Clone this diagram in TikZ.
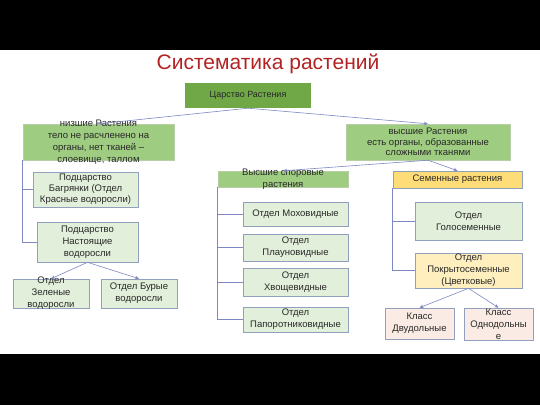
\documentclass[tikz,border=0pt]{standalone}
\usepackage{fontspec}
\setmainfont{Liberation Sans}
\usetikzlibrary{arrows.meta}

\definecolor{titlered}{RGB}{178,34,34}
\definecolor{rootgreen}{RGB}{112,168,72}
\definecolor{midgreen}{RGB}{158,204,128}
\definecolor{palegreen}{RGB}{226,239,218}
\definecolor{gold}{RGB}{254,220,120}
\definecolor{paleyellow}{RGB}{255,238,190}
\definecolor{palepink}{RGB}{250,236,228}
\definecolor{edgecol}{RGB}{145,160,190}
\definecolor{linkcol}{RGB}{125,135,195}
\definecolor{inkcol}{RGB}{40,40,40}

\begin{document}
\begin{tikzpicture}[x=1pt,y=-1pt,
   every node/.style={font=\fontsize{9.5}{12}\selectfont, text=inkcol, align=center, inner sep=0pt},
   box/.style={draw=edgecol, line width=0.6pt, fill=palegreen},
   upper/.style={draw=midgreen!85!black!60, fill=midgreen},
   inner/.style={font=\fontsize{9.5}{12}\selectfont, text=inkcol, align=center},
   link/.style={draw=linkcol, line width=0.6pt, -{Stealth[length=4pt,width=3.5pt]}},
   tree/.style={draw=linkcol, line width=0.7pt}]
   \useasboundingbox (0,0) rectangle (540,405);
   \fill[black] (0,0) rectangle (540,50);
   \fill[black] (0,354) rectangle (540,405);

   \node[font=\fontsize{21}{24}\selectfont, text=titlered] (title) at (268,64) {Систематика растений};
   \node[fill=rootgreen, minimum width=126, minimum height=25, font=\fontsize{9}{11}\selectfont] (root) at (248,95.5) {Царство Растения};

   \node[upper, minimum width=151, minimum height=36,
     label={[inner]center:низшие Растения\\тело не расчленено на\\органы, нет тканей –\\слоевище, таллом}] (low) at (98.5,142) {};
   \node[upper, minimum width=164, minimum height=36, font=\fontsize{9.5}{10.5}\selectfont] (high) at (428,142)
     {высшие Растения\\есть органы, образованные\\сложными тканями};

   \node[box, minimum width=105, minimum height=35, font=\fontsize{9.5}{11}\selectfont] (bagr) at (85.5,189.5) {Подцарство\\Багрянки (Отдел\\Красные водоросли)};
   \node[box, minimum width=101, minimum height=40] (nast) at (87.5,242) {Подцарство\\Настоящие\\водоросли};
   \node[box, minimum width=76, minimum height=29,
     label={[inner]center:Отдел\\Зеленые\\водоросли}] (green) at (51,293.5) {};
   \node[box, minimum width=76, minimum height=29] (brown) at (139,293.5) {Отдел Бурые\\водоросли};

   \node[upper, minimum width=130, minimum height=16,
     label={[inner]center:Высшие споровые\\растения}] (spor) at (283,179) {};
   \node[box, minimum width=105, minimum height=24] (mox) at (295.5,214) {Отдел Моховидные};
   \node[box, minimum width=105, minimum height=27] (plaun) at (295.5,247.5) {Отдел\\Плауновидные};
   \node[box, minimum width=105, minimum height=28] (xvo) at (295.5,282) {Отдел\\Хвощевидные};
   \node[box, minimum width=105, minimum height=25] (pap) at (295.5,319.5) {Отдел\\Папоротниковидные};

   \node[box, fill=gold, minimum width=129, minimum height=17] (sem) at (457.5,179.5) {Семенные растения};
   \node[box, minimum width=107, minimum height=38] (golo) at (468.5,221) {Отдел\\Голосеменные};
   \node[box, fill=paleyellow, minimum width=107, minimum height=35] (pokr) at (468.5,270.5) {Отдел\\Покрытосеменные\\(Цветковые)};
   \node[box, fill=palepink, minimum width=69, minimum height=31] (dvu) at (419.5,323.5) {Класс\\Двудольные};
   \node[box, fill=palepink, minimum width=69, minimum height=32,
     label={[inner]center:Класс\\Однодольны\\е}] (odn) at (498.5,324) {};

   \draw[link] (root.south) -- (low.north);
   \draw[link] (root.south) -- (high.north);
   \draw[link] (high.south) -- (spor.north);
   \draw[link] (high.south) -- (sem.north);
   \draw[link] (nast.south) -- (green.north);
   \draw[link] (nast.south) -- (brown.north);
   \draw[link] (pokr.south) -- (dvu.north);
   \draw[link] (pokr.south) -- (odn.north);

   \draw[tree] (low.south west) |- (bagr.west);
   \draw[tree] (low.south west) |- (nast.west);
   \foreach \n in {mox,plaun,xvo,pap}
     \draw[tree] (spor.south west) |- (\n.west);
   \foreach \n in {golo,pokr}
     \draw[tree] (sem.south west) |- (\n.west);
\end{tikzpicture}
\end{document}
